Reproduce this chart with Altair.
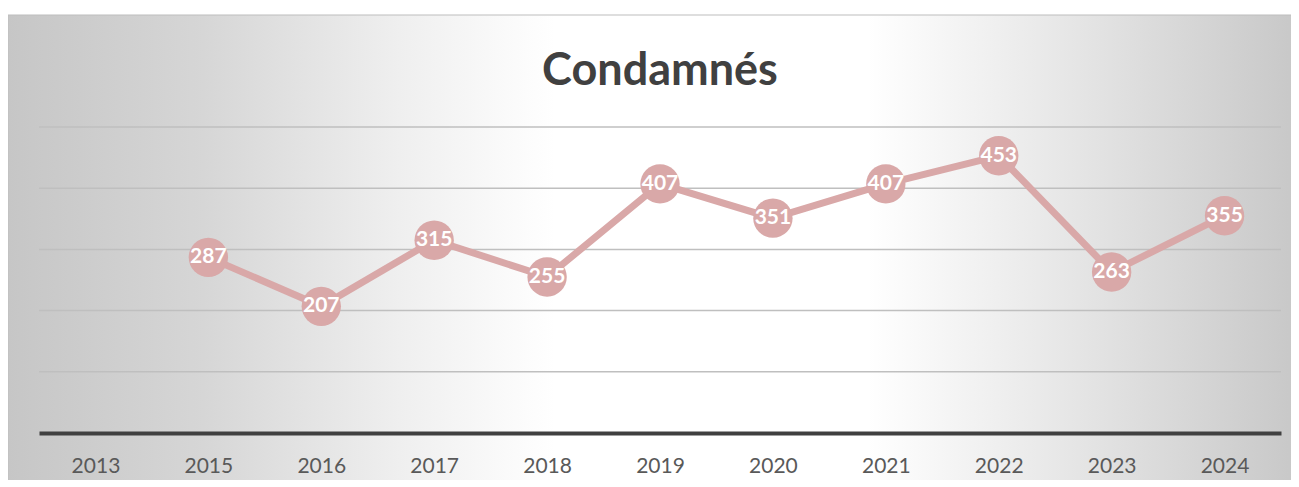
import altair as alt
import pandas as pd

TITLE = "Condamnés"
YEARS = ["2013", "2015", "2016", "2017", "2018", "2019", "2020", "2021", "2022", "2023", "2024"]
VALUES = [None, 287, 207, 315, 255, 407, 351, 407, 453, 263, 355]
GRID = [100, 200, 300, 400, 500]
Y_DOMAIN = [0, 500]

W, H = 1242, 306
PAD = {"left": 31, "top": 119, "right": 10, "bottom": 47}

LINE_COLOR = "#D9A8A8"

df = pd.DataFrame({"year": YEARS, "value": VALUES})
pts = df.dropna().copy()
pts["value"] = pts["value"].astype(int)

yscale = alt.Scale(domain=Y_DOMAIN, nice=False, zero=True)
xscale = alt.Scale(domain=YEARS, padding=0.5)

one = pd.DataFrame({"k": [0]})

bg = alt.Chart(one).mark_rect(
    fill={
        "gradient": "linear",
        "x1": 0, "y1": 0, "x2": 1, "y2": 0,
        "stops": [
            {"offset": 0, "color": "#c6c6c6"},
            {"offset": 0.15, "color": "#d6d6d6"},
            {"offset": 0.3, "color": "#efefef"},
            {"offset": 0.42, "color": "#ffffff"},
            {"offset": 0.66, "color": "#ffffff"},
            {"offset": 0.84, "color": "#e2e2e2"},
            {"offset": 1, "color": "#c6c6c6"},
        ],
    },
    stroke="#bdbdbd",
    strokeWidth=1,
).encode(
    x=alt.value(-PAD["left"]),
    x2=alt.value(W + PAD["right"] + 20),
    y=alt.value(-PAD["top"] + 7),
    y2=alt.value(H + PAD["bottom"] + 20),
)

grid = alt.Chart(pd.DataFrame({"g": GRID})).mark_rule(
    color="#BFBFBF", strokeWidth=1.5
).encode(y=alt.Y("g:Q", scale=yscale, axis=None))

xenc = alt.X(
    "year:N",
    sort=YEARS,
    scale=xscale,
    axis=alt.Axis(
        title=None,
        ticks=False,
        labelFont="Lato",
        labelFontSize=21,
        labelColor="#595959",
        labelPadding=22,
        labelAngle=0,
        domainColor="#404040",
        domainWidth=4,
        grid=False,
        zindex=1,
    ),
)

base = alt.Chart(pts).encode(
    x=xenc,
    y=alt.Y("value:Q", scale=yscale, axis=None),
)

line = base.mark_line(color=LINE_COLOR, strokeWidth=7)
circles = base.mark_circle(color=LINE_COLOR, size=1550, opacity=1)
labels = base.mark_text(
    color="white", font="Lato", fontWeight="bold", fontSize=21, baseline="middle"
).encode(text="value:Q")

title = alt.Chart(one).mark_text(
    text=TITLE, font="Lato", fontWeight="bold", fontSize=45, color="#404040",
    baseline="middle", align="center",
).encode(x=alt.value(W / 2), y=alt.value(-56))

chart = alt.layer(bg, grid, line, circles, labels, title).properties(
    width=W, height=H, padding=PAD, autosize=alt.AutoSizeParams(type="none")
).configure_view(stroke=None)

chart.save("out.html", embed_options={"renderer": "svg", "actions": False})
